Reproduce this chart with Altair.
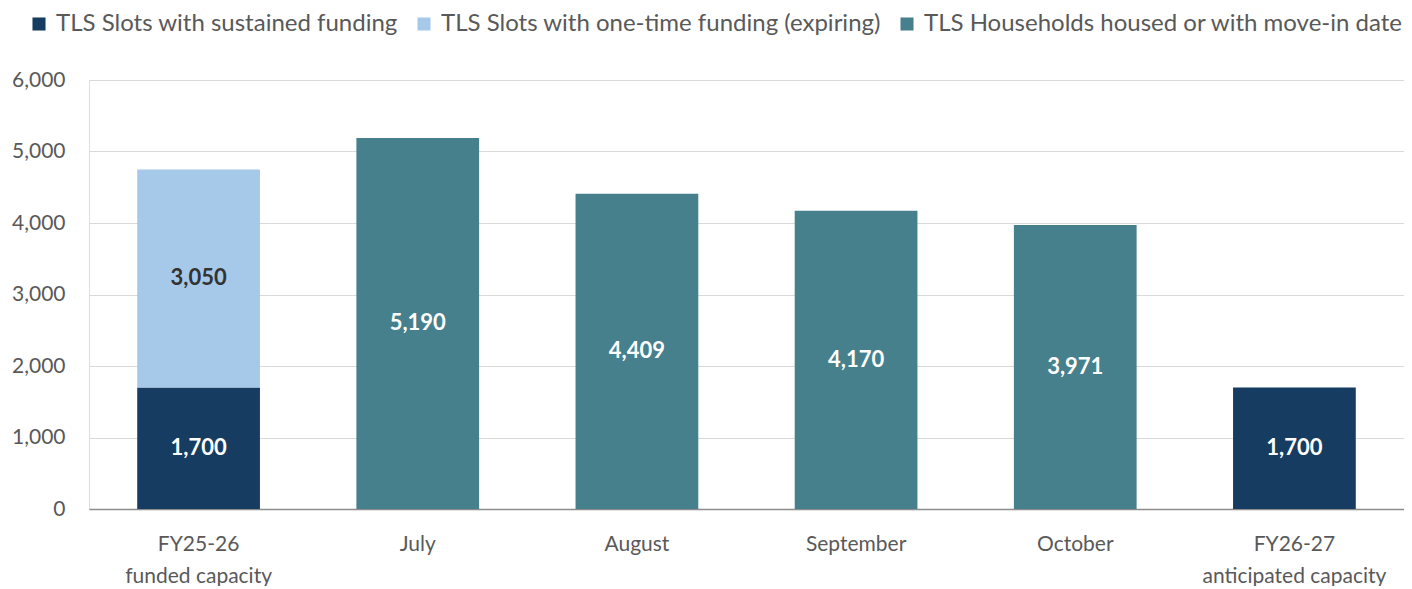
import altair as alt
import pandas as pd

categories = ["FY25-26\nfunded capacity", "July", "August", "September", "October", "FY26-27\nanticipated capacity"]
series_names = ["TLS Slots with sustained funding", "TLS Slots with one-time funding (expiring)", "TLS Households housed or with move-in date"]
series_colors = ["#173c62", "#a6c9ea", "#46808c"]
label_colors = ["white", "#333333", "white"]

sustained = [1700, None, None, None, None, 1700]
one_time = [3050, None, None, None, None, None]
housed = [None, 5190, 4409, 4170, 3971, None]

rows = []
for i, c in enumerate(categories):
    for s_idx, vals in enumerate([sustained, one_time, housed]):
        if vals[i] is not None:
            rows.append({"category": c, "series": series_names[s_idx], "order": s_idx,
                         "value": vals[i], "labelColor": label_colors[s_idx]})
df = pd.DataFrame(rows)

FONT = "Lato"

base = alt.Chart(df)

x_enc = alt.X("category:N", sort=categories, title=None,
              scale=alt.Scale(paddingInner=0.44, paddingOuter=0.22),
              axis=alt.Axis(labelAngle=0, labelExpr="split(datum.label, '\\n')",
                            labelFontSize=21, labelColor="#595959", labelFont=FONT,
                            ticks=False, domainColor="#8c8c8c", domainWidth=1.5,
                            labelPadding=35, labelLineHeight=32, labelBaseline="middle",
                            labelLimit=0))

bars = base.mark_bar().encode(
    x=x_enc,
    y=alt.Y("value:Q", stack="zero", title=None,
            scale=alt.Scale(domain=[0, 6000]),
            axis=alt.Axis(values=[0, 1000, 2000, 3000, 4000, 5000, 6000], format=",.0f",
                          labelFontSize=21, labelColor="#595959", labelFont=FONT,
                          ticks=False, domain=False, gridColor="#d9d9d9", gridWidth=1.2,
                          labelPadding=24)),
    color=alt.Color("series:N", sort=series_names,
                    scale=alt.Scale(domain=series_names, range=series_colors),
                    legend=alt.Legend(title=None, orient="none", direction="horizontal",
                                      legendX=-62, legendY=-68, symbolType="square",
                                      symbolSize=170, labelFontSize=24, labelFont=FONT,
                                      labelColor="#595959", columnPadding=14,
                                      labelOffset=5, symbolStrokeWidth=0, labelLimit=0)),
    order=alt.Order("order:Q"),
)

labels = base.transform_stack(
    stack="value", groupby=["category"], as_=["y0", "y1"], sort=[alt.SortField("order")]
).transform_calculate(
    mid="(datum.y0 + datum.y1) / 2"
).mark_text(font=FONT, fontSize=22, fontWeight="bold").encode(
    x=alt.X("category:N", sort=categories),
    y=alt.Y("mid:Q"),
    text=alt.Text("value:Q", format=",.0f"),
    color=alt.Color("labelColor:N", scale=None),
)

chart = alt.layer(bars, labels).properties(
    width=1315, height=429
).configure_view(stroke=None).configure(
    padding={"left": 3, "top": 4, "right": 0, "bottom": 0}
)

chart.save("out.html", embed_options={"renderer": "svg", "actions": False})
